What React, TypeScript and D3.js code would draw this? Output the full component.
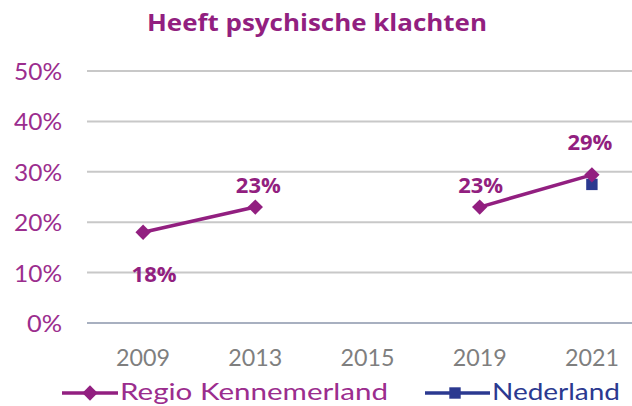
import React from "react";
import * as d3 from "d3";

const categories = ["2009", "2013", "2015", "2019", "2021"];
const regioValues: (number | null)[] = [0.18, 0.23, null, 0.23, 0.294];
const regioLabels = ["18%", "23%", "", "23%", "29%"];
const nederlandValues: (number | null)[] = [null, null, null, null, 0.275];
const yTicks = [0, 0.1, 0.2, 0.3, 0.4, 0.5];

const W = 632;
const H = 406;
const PURPLE = "#921F80";
const NAVY = "#2B3990";

// label placement offsets (dx, dy relative to point)
const labelOffsets: [number, number][] = [
  [11, 50],
  [3, -14],
  [0, 0],
  [1, -14],
  [-2, -25],
];

export default function App() {
  const x = d3.scaleBand<string>().domain(categories).range([87, 648]);
  const y = d3.scaleLinear().domain([0, 0.5]).range([323, 71]);
  const cx = (c: string) => (x(c) as number) + x.bandwidth() / 2;

  const line = d3
    .line<[string, number]>()
    .x((d) => cx(d[0]))
    .y((d) => y(d[1]));

  const seg1: [string, number][] = [
    [categories[0], regioValues[0] as number],
    [categories[1], regioValues[1] as number],
  ];
  const seg2: [string, number][] = [
    [categories[3], regioValues[3] as number],
    [categories[4], regioValues[4] as number],
  ];

  const diamond = d3.symbol().type(d3.symbolDiamond2).size(150)();
  const square = d3.symbol().type(d3.symbolSquare).size(130)();
  const axisFont = "'Lato', 'Noto Sans', sans-serif";

  return (
    <svg
      width={W}
      height={H}
      style={{ position: "absolute", left: 0, top: 0, background: "#fff" }}
    >
      <text
        x={317}
        y={31}
        textAnchor="middle"
        fontFamily="'Open Sans', sans-serif"
        fontWeight="bold"
        fontSize={23}
        textLength={340}
        lengthAdjust="spacingAndGlyphs"
        fill={PURPLE}
      >
        Heeft psychische klachten
      </text>
      {yTicks.map((t) => {
        const lbl = Math.round(t * 100) + "%";
        return (
          <g key={t}>
            <line
              x1={87}
              x2={W}
              y1={y(t)}
              y2={y(t)}
              stroke={t === 0 ? "#a8b0c0" : "#c8c8c8"}
              strokeWidth={2}
            />
            <text
              x={62}
              y={y(t) + 9}
              textAnchor="end"
              fontFamily={axisFont}
              fontSize={24}
              textLength={lbl.length === 2 ? 35 : 48}
              lengthAdjust="spacingAndGlyphs"
              fill="#9B2D8E"
            >
              {lbl}
            </text>
          </g>
        );
      })}
      {categories.map((c) => (
        <text
          key={c}
          x={cx(c)}
          y={366}
          textAnchor="middle"
          fontFamily={axisFont}
          fontSize={24}
          textLength={54}
          lengthAdjust="spacingAndGlyphs"
          fill="#7f7f7f"
        >
          {c}
        </text>
      ))}
      <path d={line(seg1) as string} fill="none" stroke={PURPLE} strokeWidth={3.5} />
      <path d={line(seg2) as string} fill="none" stroke={PURPLE} strokeWidth={3.5} />
      {nederlandValues.map((v, i) =>
        v == null ? null : (
          <path
            key={"n" + i}
            d={square as string}
            transform={`translate(${cx(categories[i])},${y(v)})`}
            fill={NAVY}
          />
        )
      )}
      {regioValues.map((v, i) =>
        v == null ? null : (
          <path
            key={"r" + i}
            d={diamond as string}
            transform={`translate(${cx(categories[i])},${y(v)})`}
            fill={PURPLE}
          />
        )
      )}
      {regioValues.map((v, i) =>
        v == null ? null : (
          <text
            key={"l" + i}
            x={cx(categories[i]) + labelOffsets[i][0]}
            y={y(v) + labelOffsets[i][1]}
            textAnchor="middle"
            fontFamily="'Open Sans', sans-serif"
            fontWeight="bold"
            fontSize={22}
            textLength={45}
            lengthAdjust="spacingAndGlyphs"
            fill={PURPLE}
          >
            {regioLabels[i]}
          </text>
        )
      )}
      <g>
        <line x1={62} x2={118} y1={393} y2={393} stroke={PURPLE} strokeWidth={3.5} />
        <path d={diamond as string} transform="translate(90,393)" fill={PURPLE} />
        <text
          x={120}
          y={400}
          fontFamily={axisFont}
          fontSize={24}
          textLength={268}
          lengthAdjust="spacingAndGlyphs"
          fill="#9B2D8E"
        >
          Regio Kennemerland
        </text>
        <line x1={425} x2={490} y1={393} y2={393} stroke={NAVY} strokeWidth={3.5} />
        <path d={square as string} transform="translate(455,393)" fill={NAVY} />
        <text
          x={492}
          y={400}
          fontFamily={axisFont}
          fontSize={24}
          textLength={128}
          lengthAdjust="spacingAndGlyphs"
          fill={NAVY}
        >
          Nederland
        </text>
      </g>
    </svg>
  );
}
